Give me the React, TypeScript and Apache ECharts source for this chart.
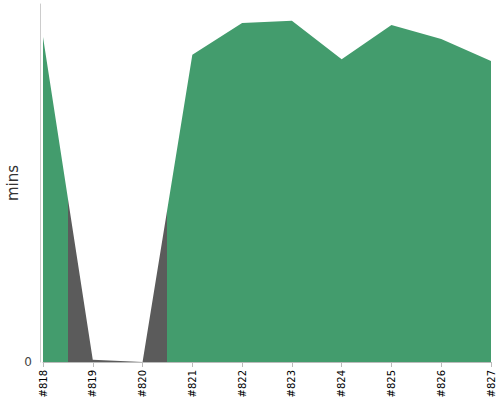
import React, { useEffect, useRef } from "react";
import * as echarts from "echarts";

const categories = ["#818", "#819", "#820", "#821", "#822", "#823", "#824", "#825", "#826", "#827"];
const minsValues = [90.8, 0.6, 0, 85.8, 94.7, 95.3, 84.6, 94.1, 90.2, 84.1];
const grayFrom = 0.5; // category position where the gray section begins
const grayTo = 2.5; // category position where it ends
const yAxisName = "mins";

const GREEN = "#439c6d";
const GRAY = "#5b5b5b";

export default function App() {
  const ref = useRef<HTMLDivElement>(null);
  useEffect(() => {
    const chart = echarts.init(ref.current!, null, { renderer: "svg" });
    const span = categories.length - 1;
    const a = grayFrom / span;
    const b = grayTo / span;
    const fill = new echarts.graphic.LinearGradient(0, 0, 1, 0, [
      { offset: 0, color: GREEN },
      { offset: a, color: GREEN },
      { offset: a, color: GRAY },
      { offset: b, color: GRAY },
      { offset: b, color: GREEN },
      { offset: 1, color: GREEN },
    ]);
    chart.setOption({
      animation: false,
      grid: { left: 43, right: 9, top: 4, bottom: 38, outerBoundsMode: "none", containLabel: false },
      xAxis: {
        type: "category",
        data: categories,
        boundaryGap: false,
        offset: 4,
        axisLine: { lineStyle: { color: "#bbb" } },
        axisTick: { lineStyle: { color: "#bbb" }, length: 5 },
        axisLabel: { rotate: 90, color: "#000", fontSize: 10, fontFamily: "DejaVu Sans", margin: 4 },
      },
      yAxis: {
        type: "value",
        min: 0,
        max: 100,
        interval: 100,
        offset: 3,
        name: yAxisName,
        nameLocation: "middle",
        nameGap: 20,
        nameMoveOverlap: false,
        nameTextStyle: { color: "#333", fontSize: 15, fontFamily: "DejaVu Sans" },
        axisLine: { show: true, lineStyle: { color: "#ccc" } },
        axisTick: { show: false },
        splitLine: { show: false },
        axisLabel: {
          color: "#444",
          fontSize: 12,
          fontFamily: "DejaVu Sans",
          margin: 8,
          formatter: (v: number) => (v === 0 ? "0" : ""),
        },
      },
      series: [
        {
          type: "line",
          data: minsValues,
          symbol: "none",
          lineStyle: { width: 0 },
          areaStyle: { opacity: 1, color: fill },
        },
      ],
    });
    return () => chart.dispose();
  }, []);
  return <div ref={ref} style={{ width: 500, height: 400, position: "absolute", left: 0, top: 0 }} />;
}
